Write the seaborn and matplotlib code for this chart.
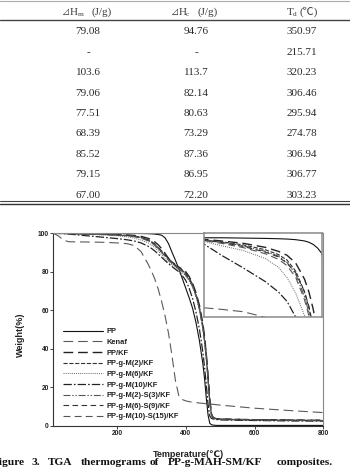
import matplotlib
matplotlib.use('Agg')
import matplotlib.pyplot as plt
import seaborn as sns
from matplotlib.lines import Line2D

# ---------------- data ----------------
table_dHm = ["79.08", "-", "103.6", "79.06", "77.51", "68.39", "85.52", "79.15", "67.00"]
table_dHc = ["94.76", "-", "113.7", "82.14", "80.63", "73.29", "87.36", "86.95", "72.20"]
table_Td = ["350.97", "215.71", "320.23", "306.46", "295.94", "274.78", "306.94", "306.77", "303.23"]

temperature = [15, 30, 45, 60, 100, 150, 200, 230, 250, 270, 290, 300, 310, 320, 330, 340,
               350, 360, 370, 380, 390, 400, 410, 420, 430, 440, 450, 455, 460, 465, 470,
               475, 480, 490, 500, 600, 700, 800]

w_pp = [100, 100, 100, 100, 100, 99.98, 99.96, 99.94, 99.92, 99.88, 99.8, 99.72, 99.58, 99.35,
        99.0, 97.6, 94.6, 90.2, 86.0, 81.5, 76.5, 71.5, 66.5, 61.0, 53.5, 44.0, 32.0, 24.0,
        14.0, 5.5, 1.2, 0.5, 0.3, 0.15, 0.15, 0.15, 0.15, 0.15]
w_kenaf = [100, 98.6, 96.4, 95.6, 95.5, 95.35, 95.0, 94.6, 93.6, 90.5, 84.2, 80.5, 76.3, 71.0,
           64.5, 57.0, 48.0, 36.5, 23.5, 15.5, 13.6, 12.9, 12.5, 12.2, 12.0, 11.8, 11.6, 11.5,
           11.4, 11.35, 11.3, 11.2, 11.1, 10.9, 10.7, 9.1, 7.9, 6.8]
w_ppkf = [100, 99.97, 99.94, 99.9, 99.8, 99.65, 99.4, 99.15, 98.9, 98.4, 97.4, 96.6, 95.5, 94.0,
          92.0, 89.5, 87.0, 84.8, 83.2, 82.3, 81.4, 80.0, 77.5, 74.0, 69.0, 62.5, 53.0, 46.0,
          37.0, 26.0, 14.0, 6.0, 4.2, 3.6, 3.4, 3.1, 2.9, 2.8]
w_m2 = [100, 99.95, 99.9, 99.85, 99.75, 99.55, 99.25, 98.95, 98.6, 97.9, 96.6, 95.6, 94.2, 92.4,
        90.5, 88.5, 86.7, 85.0, 83.6, 82.3, 80.8, 79.0, 76.5, 73.0, 68.0, 61.0, 51.0, 44.0,
        35.0, 24.0, 12.0, 5.5, 4.0, 3.5, 3.3, 3.0, 2.8, 2.6]
w_m6 = [100, 99.92, 99.85, 99.77, 99.5, 99.2, 98.7, 98.15, 97.5, 96.5, 95.1, 94.0, 92.6, 90.8,
        88.8, 86.8, 85.0, 83.5, 82.2, 81.0, 79.6, 77.8, 75.2, 71.8, 67.0, 60.0, 50.0, 43.0,
        34.0, 23.0, 11.5, 5.2, 3.8, 3.3, 3.1, 2.8, 2.6, 2.5]
w_m10 = [100, 99.9, 99.78, 99.6, 98.9, 98.1, 97.25, 96.6, 96.0, 95.0, 93.3, 92.2, 90.8, 89.2,
         87.5, 85.8, 84.2, 82.7, 81.3, 80.0, 78.0, 75.5, 71.5, 66.0, 59.0, 50.0, 38.0, 30.0,
         21.0, 11.0, 5.0, 3.8, 3.5, 3.2, 3.0, 2.7, 2.5, 2.4]
w_m2s3 = [100, 99.96, 99.92, 99.88, 99.72, 99.5, 99.15, 98.85, 98.45, 97.7, 96.3, 95.3, 93.9,
          92.1, 90.2, 88.2, 86.3, 84.6, 83.1, 81.7, 80.2, 78.5, 76.0, 72.6, 67.7, 60.8, 51.0,
          44.0, 35.5, 24.5, 12.5, 5.8, 4.1, 3.6, 3.4, 3.1, 2.9, 2.7]
w_m6s9 = [100, 99.96, 99.9, 99.86, 99.7, 99.45, 99.1, 98.8, 98.4, 97.8, 96.6, 95.7, 94.4, 92.7,
          90.8, 88.8, 86.9, 85.2, 83.8, 82.5, 81.0, 79.2, 76.8, 73.4, 68.5, 61.5, 52.0, 45.0,
          36.5, 25.5, 13.0, 6.0, 4.2, 3.7, 3.5, 3.2, 3.0, 2.8]
w_m10s15 = [100, 99.94, 99.88, 99.82, 99.65, 99.38, 99.0, 98.65, 98.25, 97.5, 96.1, 95.1, 93.7,
            91.9, 90.0, 88.0, 86.0, 84.3, 82.8, 81.4, 79.9, 78.2, 75.8, 72.4, 67.5, 60.5, 50.5,
            43.5, 35.0, 24.0, 12.0, 5.6, 4.0, 3.5, 3.3, 3.0, 2.8, 2.6]

series_names = ["PP", "Kenaf", "PP/KF", "PP-g-M(2)/KF", "PP-g-M(6)/KF", "PP-g-M(10)/KF",
                "PP-g-M(2)-S(3)/KF", "PP-g-M(6)-S(9)/KF", "PP-g-M(10)-S(15)/KF"]
series_values = [w_pp, w_kenaf, w_ppkf, w_m2, w_m6, w_m10, w_m2s3, w_m6s9, w_m10s15]

caption_words = ["Figure", "3.", "TGA", "thermograms", "of", "PP-g-MAH-SM/KF", "composites."]

# ---------------- styles ----------------
styles = [
    dict(color='#111111', lw=0.8, ls='-'),
    dict(color='#5a5a5a', lw=0.8, ls=(0, (7, 3.5))),
    dict(color='#222222', lw=1.0, ls=(0, (7, 3.5))),
    dict(color='#333333', lw=0.8, ls=(0, (3, 1.2))),
    dict(color='#666666', lw=0.7, ls=(0, (0.7, 0.8))),
    dict(color='#222222', lw=0.9, ls=(0, (6, 1.5, 1.2, 1.5))),
    dict(color='#555555', lw=0.8, ls=(0, (5, 1.3, 1, 1.3, 1, 1.3))),
    dict(color='#333333', lw=0.8, ls=(0, (4, 2.5))),
    dict(color='#555555', lw=0.8, ls=(0, (5, 3))),
]
caption_x = [-7, 32, 48, 81, 150, 168, 277]

W_PX, H_PX = 350, 470
sns.set_style('ticks')
plt.rcParams['font.family'] = ['Liberation Sans', 'DejaVu Sans', 'Noto Sans CJK JP']
plt.rcParams['lines.scale_dashes'] = False

fig = plt.figure(figsize=(3.5, 4.7), dpi=100)
fig.patch.set_facecolor('white')


def fx(x):
    return x / W_PX


def fy(y):
    return 1 - y / H_PX


serif = ['Liberation Serif', 'Noto Sans CJK JP', 'DejaVu Sans']

# ---------------- table ----------------
def hline(y, lw, color):
    fig.add_artist(Line2D([0, 1], [fy(y), fy(y)], color=color, lw=lw,
                          transform=fig.transFigure))

hline(0.6, 0.8, '#aaaaaa')
hline(20.2, 1.0, '#444444')
hline(201.3, 0.8, '#444444')
hline(203.6, 1.0, '#333333')

hc = '#3a3a3a'
base = 14.6
pieces = [
    ("\u22bf", 61.5, 0, 5.8), ("H", 70, 0, 8), ("m", 77.6, 1.8, 5.3), ("(J/g)", 92, 0, 8),
    ("\u22bf", 170, 0, 5.8), ("H", 178.5, 0, 8), ("c", 186.2, 1.8, 5.3), ("(J/g)", 198, 0, 8),
    ("T", 286.5, 0, 8), ("d", 292.5, 1.8, 5.3), ("(\u2103)", 299.5, 0, 8),
]
for s, x, dy, fs in pieces:
    fig.text(fx(x), fy(base + dy), s, fontsize=fs, family=serif, color=hc,
             ha='left', va='baseline')

col_x = [88, 196, 302]
for ci, col in enumerate([table_dHm, table_dHc, table_Td]):
    for ri, val in enumerate(col):
        yc = 30.7 + ri * 20.4
        fig.text(fx(col_x[ci]), fy(yc + 3.7), val, fontsize=8, family=serif,
                 color='#2a2a2a', ha='center', va='baseline')

# ---------------- main TGA plot ----------------
ax = fig.add_axes([fx(53.3), fy(425.7), fx(323.3) - fx(53.3), fy(232.5) - fy(425.7)])
handles = []
for name, vals, st in zip(series_names, series_values, styles):
    sns.lineplot(x=temperature, y=vals, ax=ax, color=st['color'], linewidth=st['lw'],
                 linestyle=st['ls'], estimator=None, errorbar=None, sort=False)
    ln = ax.get_lines()[-1]
    ln.set_label(name)
    handles.append(ln)

ax.set_xlim(15, 800)
ax.set_ylim(0, 100.4)
ax.set_xticks([200, 400, 600, 800])
ax.set_yticks([0, 20, 40, 60, 80, 100])
ax.tick_params(direction='out', length=2, width=0.6, pad=1.2, labelsize=4.8, colors='#222222')
for lab in ax.get_xticklabels() + ax.get_yticklabels():
    lab.set_fontweight('bold')
for side in ['left', 'bottom']:
    ax.spines[side].set_color('#333333')
    ax.spines[side].set_linewidth(0.8)
for side in ['top', 'right']:
    ax.spines[side].set_visible(True)
    ax.spines[side].set_color('#888888')
    ax.spines[side].set_linewidth(0.8)

ax.set_xlabel("Temperature(\u2103)", fontsize=6.5, fontweight='bold', color='#222222')
ax.set_ylabel("Weight(%)", fontsize=6.5, fontweight='bold', color='#222222')
ax.xaxis.set_label_coords(0.5, -0.128)
ax.yaxis.set_label_coords(-0.105, 0.47)

leg = ax.legend(handles, series_names, loc='upper left', bbox_to_anchor=(0.036, 0.505),
                frameon=False, fontsize=5.4, handlelength=5.3, handletextpad=0.55,
                labelspacing=0.45, borderpad=0, borderaxespad=0)
for t in leg.get_texts():
    t.set_fontweight('bold')
    t.set_color('#222222')

# ---------------- inset ----------------
axin = fig.add_axes([fx(204), fy(317.3), fx(322) - fx(204), fy(233) - fy(317.3)])
axin.set_facecolor('white')
for name, vals, st in zip(series_names, series_values, styles):
    sns.lineplot(x=temperature, y=vals, ax=axin, color=st['color'], linewidth=st['lw'],
                 linestyle=st['ls'], estimator=None, errorbar=None, sort=False)
axin.set_xlim(60, 330)
axin.set_ylim(95, 100.3)
axin.set_xticks([])
axin.set_yticks([])
for side in axin.spines.values():
    side.set_visible(True)
    side.set_color('#8a8a8a')
    side.set_linewidth(1.1)

# ---------------- caption ----------------
for word, x in zip(caption_words, caption_x):
    fig.text(fx(x), fy(465.3), word, fontsize=8.2, family=serif, fontweight='bold',
             color='#111111', ha='left', va='baseline')

fig.savefig('out.png', dpi=100)
